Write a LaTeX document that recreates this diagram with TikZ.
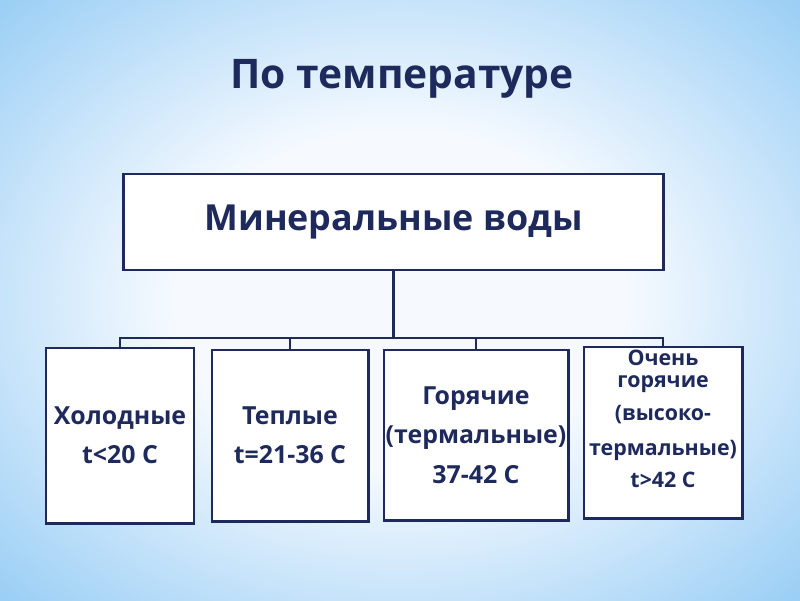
\documentclass[tikz,border=0pt]{standalone}
\usepackage{fontspec}
\setmainfont{Open Sans}
\usetikzlibrary{positioning}

\definecolor{navy}{RGB}{31,42,92}
\definecolor{bgedge}{RGB}{155,207,245}
\definecolor{bgcenter}{RGB}{246,250,255}
\pgfdeclareradialshading{slideglow}{\pgfpoint{0bp}{0bp}}{color(0bp)=(bgcenter); color(14bp)=(bgcenter); color(35bp)=(bgedge); color(50bp)=(bgedge)}

\tikzset{
  heading/.style={text=navy, font=\bfseries\fontsize{29}{32}\selectfont},
  box/.style={draw=navy, line width=2.1pt, fill=white, text=navy, align=center,
    inner sep=0pt, font=\bfseries\fontsize{17.7}{28}\selectfont},
  smalltext/.style={text=navy, align=center, font=\bfseries\fontsize{15.2}{16}\selectfont},
  link/.style={draw=navy, line width=1.9pt},
}

\begin{document}
\begin{tikzpicture}[x=0.025cm,y=-0.025cm]
  % slide background
  \shade[shading=slideglow] (0,0) rectangle (800,600);
  \useasboundingbox (0,0) rectangle (800,600);

  \node[heading] (title) at (402,79) {По температуре};

  % root and the four groups
  \node[box, minimum width=13.475cm, minimum height=2.4cm,
    font=\bfseries\fontsize{25.5}{28}\selectfont] (root) at (393.5,222) {Минеральные воды};
  \node[box, minimum width=3.7cm, minimum height=4.375cm] (cold) at (120,435.5) {Холодные\\t<20 С};
  \node[box, minimum width=3.9cm, minimum height=4.275cm] (warm) at (290,435.5) {Теплые\\t=21-36 С};
  \node[box, minimum width=4.6cm, minimum height=4.25cm] (hot) at (476,435) {Горячие\\(термальные)\\37-42 С};
  \node[box, minimum width=3.95cm, minimum height=4.275cm] (veryhot) at (663,432.5) {};
  \node[smalltext] (veryhottext) at (663,419)
    {Очень\\горячие\\[7pt](высоко-\\[9pt]термальные)\\[7pt]t>42 С};

  % connectors
  \coordinate (hub) at (393.5,338);
  \draw[link] (root.south) -- (hub);
  \foreach \k in {cold,warm,hot,veryhot} {
      \draw[link] (hub) -| (\k.north);
    }
\end{tikzpicture}
\end{document}
